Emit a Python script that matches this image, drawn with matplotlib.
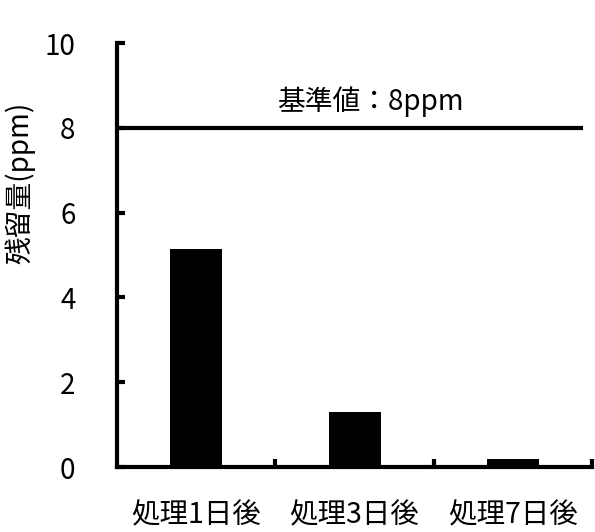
import numpy as np
import matplotlib.pyplot as plt

plt.rcParams['font.family'] = ['Noto Sans CJK JP', 'DejaVu Sans']

categories = ["処理1日後", "処理3日後", "処理7日後"]
residue = [5.15, 1.3, 0.2]
standard = 8
standard_label = "基準値：8ppm"
y_ticks = [0, 2, 4, 6, 8, 10]

fig = plt.figure(figsize=(5.95, 5.32), dpi=100)
ax = fig.add_axes([0.197, 0.122, 0.798, 0.797])

x = np.arange(len(categories))
ax.bar(x, residue, width=0.33, color="black")
ax.plot([-0.5, 2.44], [standard, standard], color="black", linewidth=3, solid_capstyle="butt")
ax.text(1.1, standard + 0.25, standard_label, ha="center", va="bottom", fontsize=20)

ax.set_xlim(-0.5, 2.5)
ax.set_ylim(0, 10)
ax.set_yticks(y_ticks)
ax.set_yticklabels([str(t) for t in y_ticks], fontsize=20)
ax.set_xticks(x)
ax.set_xticklabels(categories, fontsize=20.5)
ax.set_xticks([0.5, 1.5, 2.5], minor=True)
ax.tick_params(axis="x", which="major", length=0, pad=24)
ax.tick_params(axis="x", which="minor", direction="in", length=6, width=3)
ax.tick_params(axis="y", direction="in", length=6, width=3, pad=30)
ax.set_ylabel("残留量(ppm)", fontsize=20)
ax.yaxis.set_label_coords(-0.172, 0.67)

for side in ["top", "right"]:
    ax.spines[side].set_visible(False)
for side in ["left", "bottom"]:
    ax.spines[side].set_linewidth(3)

plt.savefig("out.png", dpi=100)
